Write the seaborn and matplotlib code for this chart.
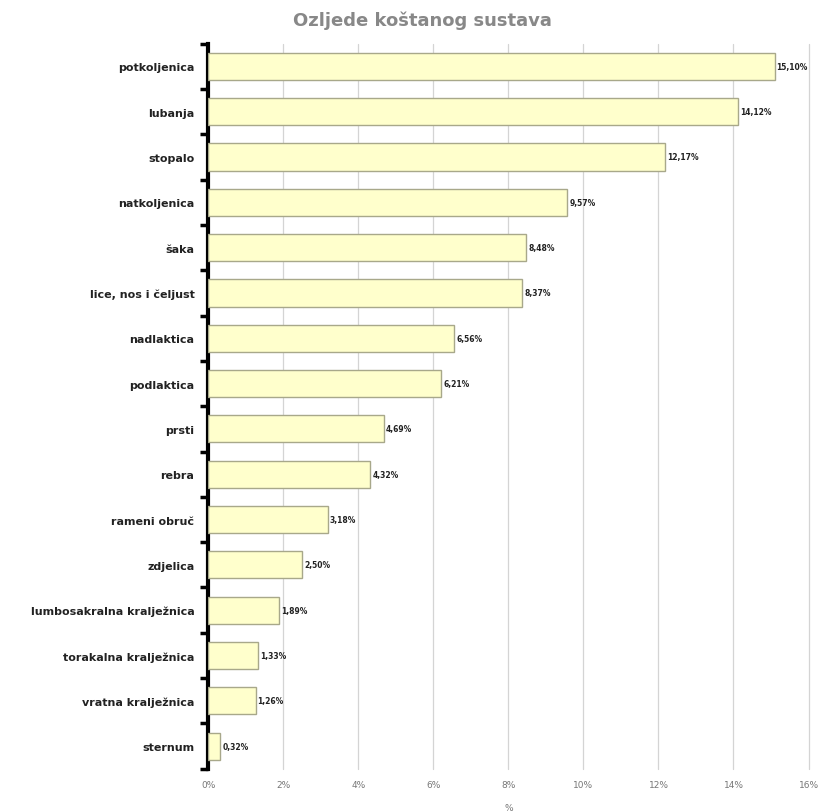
import matplotlib
matplotlib.use("Agg")
import matplotlib.pyplot as plt
from matplotlib.ticker import FixedLocator, FuncFormatter
import numpy as np
import pandas as pd
import seaborn as sb

categories = ["potkoljenica", "lubanja", "stopalo", "natkoljenica", "šaka",
              "lice, nos i čeljust", "nadlaktica", "podlaktica", "prsti", "rebra",
              "rameni obruč", "zdjelica", "lumbosakralna kralježnica",
              "torakalna kralježnica", "vratna kralježnica", "sternum"]
values = [15.10, 14.12, 12.17, 9.57, 8.48, 8.37, 6.56, 6.21, 4.69, 4.32,
          3.18, 2.50, 1.89, 1.33, 1.26, 0.32]
x_ticks = [0, 2, 4, 6, 8, 10, 12, 14, 16]

df = pd.DataFrame({"kategorija": categories, "postotak": values})

sb.set_style("white")
plt.rcParams['font.family'] = ['DejaVu Sans']

fig = plt.figure(figsize=(8.2, 8.12), dpi=100)
ax = fig.add_axes([0.254, 0.052, 0.732, 0.893])

sb.barplot(data=df, x="postotak", y="kategorija", orient="h", ax=ax,
           color="#FFFFCC", edgecolor="#A8A88A", linewidth=1.0, width=0.6,
           saturation=1, zorder=3)

ax.set_xlim(0, 16)
ax.set_ylim(len(categories) - 0.5, -0.5)
ax.xaxis.set_major_locator(FixedLocator(x_ticks))
ax.xaxis.set_major_formatter(FuncFormatter(lambda v, p: f"{int(v)}%"))
ax.grid(axis="x", color="#D4D4D4", linewidth=0.9, zorder=0, clip_on=False)
ax.tick_params(axis="x", length=0, labelsize=6.5, labelcolor="#777777", pad=8)

# category labels in the middle, tick marks on the boundaries
ax.tick_params(axis="y", which="major", left=False, length=0, labelsize=8,
               pad=10, labelcolor="#222222")
for lab in ax.get_yticklabels():
    lab.set_fontweight("bold")
ax.yaxis.set_minor_locator(FixedLocator(np.arange(-0.5, len(categories), 1.0)))
ax.tick_params(axis="y", which="minor", left=True, direction="out",
               length=6, width=2.5, color="black")

for s in ["top", "right", "bottom"]:
    ax.spines[s].set_visible(False)
ax.spines["left"].set_linewidth(3)
ax.spines["left"].set_color("black")

for i, v in enumerate(values):
    ax.text(v + 0.05, i, f"{v:.2f}%".replace(".", ","), va="center", ha="left",
            fontsize=5.5, fontweight="bold", color="#222222", zorder=4)

ax.set_xlabel("%", fontsize=6.5, color="#777777", labelpad=10)
ax.set_ylabel("")

fig.text(0.515, 0.975, "Ozljede koštanog sustava", ha="center", va="center",
         fontsize=13, fontweight="bold", color="#888888")

plt.savefig("out.png", dpi=100)
